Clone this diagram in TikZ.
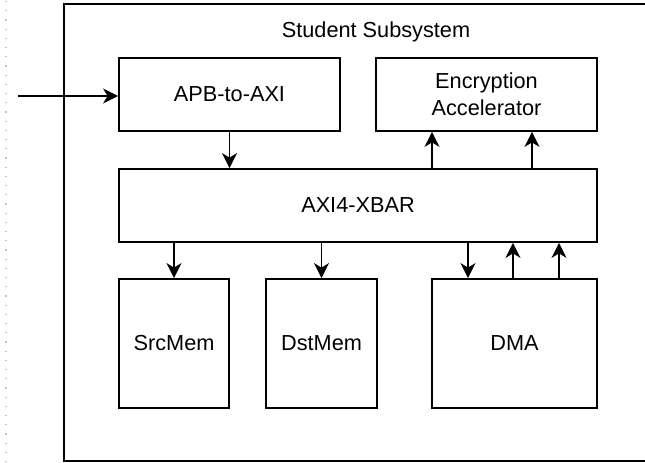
\documentclass[tikz,border=0pt]{standalone}
\usepackage{fontspec}
\setmainfont{Liberation Sans}
\usetikzlibrary{arrows.meta,calc}
\begin{document}
\begin{tikzpicture}[x=1bp,y=-1bp,
  box/.style={draw=black,line width=1.8bp,rectangle,inner sep=0pt,align=center,
    font=\fontsize{21.8}{27}\selectfont},
  conn/.style={line width=1.8bp,-{Stealth[length=15bp,width=15bp,inset=4.5bp]}},
  lbl/.style={font=\fontsize{21.8}{27}\selectfont,inner sep=0pt}]
\useasboundingbox (0,0) rectangle (645,463);
\begin{scope}
\clip (0,0) rectangle (645,463);
\draw[gray!45,line width=1.2bp,dash pattern=on 1.2bp off 8bp] (6,1) -- (6,463);
\node[draw=black,line width=1.8bp,rectangle,inner sep=0pt,minimum width=636bp,minimum height=457bp] (sub) at (382,232.5) {};
\end{scope}
\node[lbl] (title) at (376,32) {Student Subsystem};
\node[box,minimum width=221bp,minimum height=73bp] (apb) at (229.5,94.5) {APB-to-AXI};
\node[box,minimum width=221bp,minimum height=73bp] (enc) at (486.5,94.5) {Encryption\\Accelerator};
\node[box,minimum width=478bp,minimum height=73bp] (xbar) at (358,205.5) {AXI4-XBAR};
\node[box,minimum width=110bp,minimum height=129bp] (src) at (174,343.5) {SrcMem};
\node[box,minimum width=111bp,minimum height=129bp] (dst) at (321.5,343.5) {DstMem};
\node[box,minimum width=165bp,minimum height=129bp] (dma) at (514.5,343.5) {DMA};
\coordinate (in) at (18,96);
\draw[conn] (in) -- (in -| apb.west);
\draw[conn] (apb.south) -- (apb.south |- xbar.north);
\draw[conn] (xbar.north -| 432,0) -- (enc.south -| 432,0);
\draw[conn] (xbar.north -| 532,0) -- (enc.south -| 532,0);
\draw[conn] (xbar.south -| src.north) -- (src.north);
\draw[conn] (xbar.south -| dst.north) -- (dst.north);
\draw[conn] (xbar.south -| 468,0) -- (dma.north -| 468,0);
\draw[conn] (dma.north -| 513,0) -- (xbar.south -| 513,0);
\draw[conn] (dma.north -| 559,0) -- (xbar.south -| 559,0);
\end{tikzpicture}
\end{document}
